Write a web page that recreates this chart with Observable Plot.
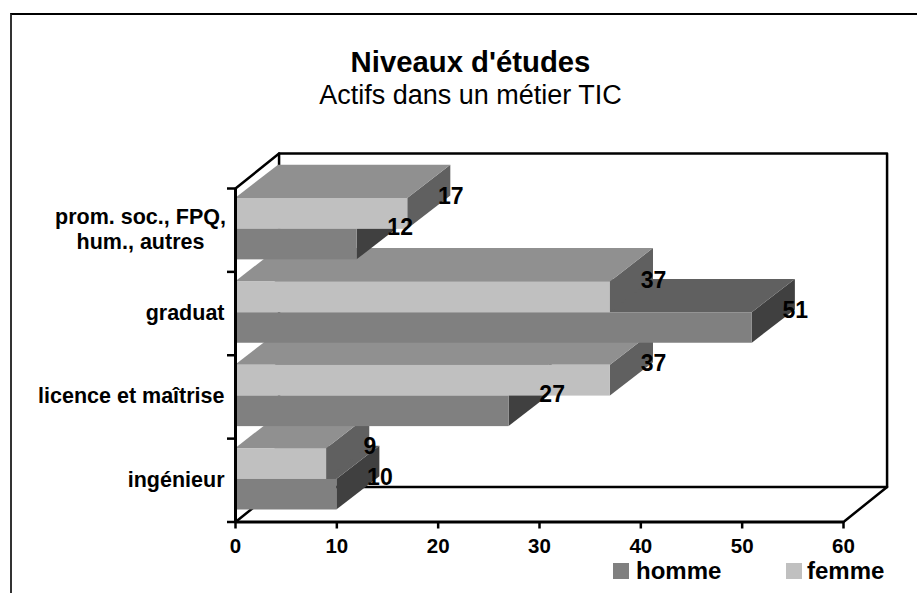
<!DOCTYPE html>
<html><head><meta charset="utf-8">
<script src="https://cdn.jsdelivr.net/npm/d3@7"></script>
<script src="https://cdn.jsdelivr.net/npm/@observablehq/plot@0.6"></script>
<style>
html,body{margin:0;padding:0;background:#fff;overflow:hidden}
#page{position:relative;width:917px;height:593px;font-family:"Liberation Sans",Arial,sans-serif;color:#000}
#frame{position:absolute;left:10px;top:13px;width:907px;height:580px;border-left:2px solid #333;border-top:2px solid #000;box-sizing:border-box;pointer-events:none}
#title,#subtitle{position:absolute;left:0;width:941px;text-align:center;white-space:nowrap}
#title{top:44px;font-size:29.3px;font-weight:bold;line-height:36px}
#subtitle{top:79px;font-size:27px;line-height:32px}
.lg{position:absolute;top:557px;font-size:24px;font-weight:bold;line-height:28px;white-space:nowrap}
.sw{position:absolute;top:563px;width:16px;height:16px}
svg{position:absolute;left:0;top:0}
</style></head><body>
<div id="page">
<div id="chart"></div>
<div id="frame"></div>
<div id="title">Niveaux d'études</div>
<div id="subtitle">Actifs dans un métier TIC</div>
<div class="sw" style="left:613px;background:#808080"></div><div class="lg" style="left:636px">homme</div>
<div class="sw" style="left:786px;background:#c0c0c0"></div><div class="lg" style="left:807px">femme</div>
</div>
<script>
const categories = ["ingénieur", "licence et maîtrise", "graduat", "prom. soc., FPQ,\nhum., autres"];
const homme = [10, 27, 51, 12];
const femme = [9, 37, 37, 17];
const xTicks = [0, 10, 20, 30, 40, 50, 60];
const yTicks = [0, 1, 2, 3, 4];

const styles = {
  homme: {front: "#808080", top: "#606060", side: "#404040", lo: 0.144, hi: 0.51},
  femme: {front: "#c0c0c0", top: "#909090", side: "#606060", lo: 0.51, hi: 0.88}
};
const barDX = 4.25, barDY = 0.4, wallDX = 4.3, wallDY = 0.42;
const labelLift = 0.205;

const marks = [];
// back wall and floor, behind the bars
const wall = {x:"x", y:"y", stroke:"#000", strokeWidth:2.5};
marks.push(Plot.line([{x:0,y:4},{x:wallDX,y:4+wallDY},{x:60+wallDX,y:4+wallDY},{x:60+wallDX,y:wallDY},{x:wallDX,y:wallDY},{x:0,y:0}], wall));
marks.push(Plot.line([{x:wallDX,y:wallDY},{x:wallDX,y:4+wallDY}], wall));
marks.push(Plot.line([{x:60,y:0},{x:60+wallDX,y:wallDY}], wall));

const labels = [];
categories.forEach((c, i) => {
  [["homme", homme[i]], ["femme", femme[i]]].forEach(([name, v]) => {
    const s = styles[name], lo = i + s.lo, hi = i + s.hi;
    marks.push(Plot.areaY([{x:v,y1:lo,y2:hi},{x:v+barDX,y1:lo+barDY,y2:hi+barDY}],
      {x:"x", y1:"y1", y2:"y2", fill:s.side}));
    marks.push(Plot.areaX([{x1:0,x2:v,y:hi},{x1:barDX,x2:v+barDX,y:hi+barDY}],
      {x1:"x1", x2:"x2", y:"y", fill:s.top}));
    marks.push(Plot.rect([{x1:0,x2:v,y1:lo,y2:hi}],
      {x1:"x1", x2:"x2", y1:"y1", y2:"y2", fill:s.front}));
    labels.push({x:v+barDX, y:(lo+hi)/2+labelLift, t:String(v)});
  });
});

const font = {fontFamily:'"Liberation Sans",Arial,sans-serif', fontWeight:"bold", fill:"#000"};
marks.push(Plot.text(labels, {x:"x", y:"y", text:"t", fontSize:23, ...font}));

// axes
marks.push(Plot.ruleX([0], {y1:0, y2:4, stroke:"#000", strokeWidth:3}));
marks.push(Plot.ruleY([0], {x1:0, x2:60, stroke:"#000", strokeWidth:3}));
marks.push(Plot.axisY(yTicks, {tickSize:8, tickFormat:()=>"", stroke:"#000", strokeWidth:2.5, label:null}));
marks.push(Plot.axisX(xTicks, {tickSize:7, tickPadding:9, tickFormat:d=>d, stroke:"#000", strokeWidth:2.5, fontSize:20.5, fontWeight:"bold", fill:"#000", fontFamily:font.fontFamily, label:null}));

// category labels
const rows = categories.map((c, i) => ({c, y:i+0.5}));
marks.push(Plot.text(rows.filter(r => !r.c.includes("\n")), {x:0, y:"y", text:"c", textAnchor:"end", dx:-11, dy:-2, fontSize:21.5, lineHeight:1.2, ...font}));
marks.push(Plot.text(rows.filter(r => r.c.includes("\n")), {x:0, y:"y", text:"c", textAnchor:"middle", dx:-95, dy:-2, fontSize:21.5, lineHeight:1.2, ...font}));

const chart = Plot.plot({
  width:917, height:593,
  marginLeft:235, marginRight:74, marginTop:188, marginBottom:71.5,
  style:{background:"transparent", overflow:"visible"},
  x:{type:"linear", domain:[0,60], axis:null},
  y:{type:"linear", domain:[0,4], axis:null},
  marks
});
document.getElementById("chart").appendChild(chart);
</script>
</body></html>
